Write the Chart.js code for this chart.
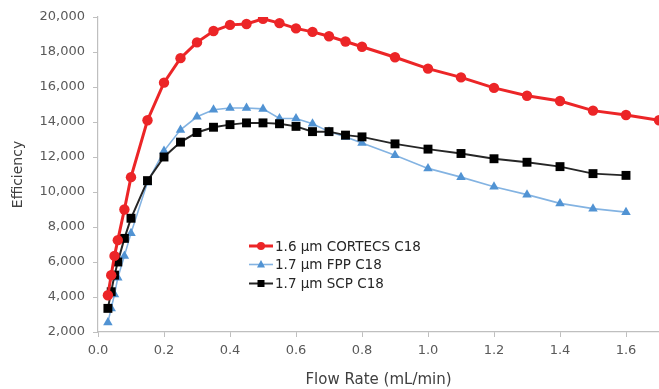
<!DOCTYPE html>
<html>
<head>
<meta charset="utf-8">
<script src="https://cdn.jsdelivr.net/npm/chart.js@4/dist/chart.umd.min.js"></script>
<style>
html, body { margin: 0; padding: 0; background: #fff; }
</style>
</head>
<body>
<canvas id="effChart" width="659" height="389"></canvas>
<script>
// flow rate (mL/min) and plate count
const flowCortecs = [0.03, 0.04, 0.05, 0.06, 0.08, 0.1, 0.15, 0.2, 0.25, 0.3, 0.35, 0.4, 0.45, 0.5, 0.55, 0.6, 0.65, 0.7, 0.75, 0.8, 0.9, 1.0, 1.1, 1.2, 1.3, 1.4, 1.5, 1.6, 1.7];
const effCortecs = [4100, 5250, 6350, 7250, 9000, 10850, 14100, 16250, 17650, 18550, 19200, 19550, 19600, 19900, 19650, 19350, 19150, 18900, 18600, 18300, 17700, 17050, 16550, 15950, 15500, 15200, 14650, 14400, 14100];

const flowOther = [0.03, 0.04, 0.05, 0.06, 0.08, 0.1, 0.15, 0.2, 0.25, 0.3, 0.35, 0.4, 0.45, 0.5, 0.55, 0.6, 0.65, 0.7, 0.75, 0.8, 0.9, 1.0, 1.1, 1.2, 1.3, 1.4, 1.5, 1.6];
const effFpp = [2550, 3350, 4150, 5100, 6350, 7650, 10550, 12350, 13550, 14300, 14700, 14800, 14800, 14750, 14200, 14200, 13900, 13450, 13150, 12800, 12100, 11350, 10850, 10300, 9850, 9350, 9050, 8850];
const effScp = [3350, 4300, 5250, 6000, 7350, 8500, 10650, 12000, 12850, 13400, 13700, 13850, 13950, 13950, 13900, 13750, 13450, 13450, 13250, 13150, 12750, 12450, 12200, 11900, 11700, 11450, 11050, 10950];

const seriesNames = ['1.6 µm CORTECS C18', '1.7 µm FPP C18', '1.7 µm SCP C18'];
const xTicks = [0, 0.2, 0.4, 0.6, 0.8, 1.0, 1.2, 1.4, 1.6];
const yTicks = [2000, 4000, 6000, 8000, 10000, 12000, 14000, 16000, 18000, 20000];

function toPoints(xs, ys) {
    return xs.map((x, i) => ({ x: x, y: ys[i] }));
}

const axisGray = '#bfbfbf';
const tickGray = '#595959';

// legend sits inside the plot, drawn by hand
const insideLegend = {
    id: 'insideLegend',
    afterDraw(chart) {
        const ctx = chart.ctx;
        const rows = [246, 264.5, 283.5];
        ctx.save();
        [0, 1, 2].forEach((di, r) => {
            const ds = chart.data.datasets[di];
            const y = rows[r];
            ctx.strokeStyle = ds.borderColor;
            ctx.lineWidth = ds.borderWidth;
            ctx.beginPath();
            ctx.moveTo(249, y);
            ctx.lineTo(273, y);
            ctx.stroke();
            ctx.fillStyle = ds.pointBackgroundColor;
            ctx.beginPath();
            if (ds.pointStyle === 'circle') {
                ctx.arc(261, y, 4, 0, Math.PI * 2);
            } else if (ds.pointStyle === 'triangle') {
                ctx.moveTo(261, y - 4.5);
                ctx.lineTo(265, y + 3);
                ctx.lineTo(257, y + 3);
                ctx.closePath();
            } else {
                ctx.rect(257.5, y - 3.5, 7, 7);
            }
            ctx.fill();
            ctx.fillStyle = '#262626';
            ctx.font = '13.5px "DejaVu Sans"';
            ctx.textBaseline = 'middle';
            ctx.fillText(ds.label, 275, y + 1);
        });
        ctx.restore();
    }
};

const ctx = document.getElementById('effChart');
const effChart = new Chart(ctx, {
    type: 'scatter',
    data: {
        datasets: [{
            label: seriesNames[0],
            data: toPoints(flowCortecs, effCortecs),
            showLine: true,
            borderColor: '#ec2527',
            backgroundColor: '#ec2527',
            pointBackgroundColor: '#ec2527',
            pointBorderWidth: 0,
            borderWidth: 3,
            pointStyle: 'circle',
            pointRadius: 5.2,
            order: 0
        }, {
            label: seriesNames[1],
            data: toPoints(flowOther, effFpp),
            showLine: true,
            borderColor: '#83b3e2',
            backgroundColor: '#5193d3',
            pointBackgroundColor: '#5193d3',
            pointBorderWidth: 0,
            borderWidth: 1.6,
            pointStyle: 'triangle',
            pointRadius: 5.5,
            order: 2
        }, {
            label: seriesNames[2],
            data: toPoints(flowOther, effScp),
            showLine: true,
            borderColor: '#262626',
            backgroundColor: '#000000',
            pointBackgroundColor: '#000000',
            pointBorderWidth: 0,
            borderWidth: 2,
            pointStyle: 'rect',
            pointRadius: 6.3,
            order: 1
        }]
    },
    options: {
        responsive: false,
        devicePixelRatio: 1,
        animation: false,
        layout: { autoPadding: false, padding: { top: 17, right: 0, bottom: 0, left: 0 } },
        plugins: {
            legend: { display: false },
            tooltip: { enabled: false }
        },
        scales: {
            x: {
                type: 'linear',
                min: 0,
                max: 1.7,
                afterBuildTicks: (scale) => { scale.ticks = xTicks.map(v => ({ value: v })); },
                afterFit: (scale) => { scale.height = 57; },
                ticks: {
                    color: tickGray,
                    font: { family: 'DejaVu Sans', size: 13 },
                    padding: 6,
                    maxRotation: 0,
                    callback: (v) => Number(v).toFixed(1)
                },
                grid: { drawOnChartArea: false, color: axisGray, tickLength: 5 },
                border: { color: axisGray, width: 1.2 },
                title: {
                    display: true,
                    text: 'Flow Rate (mL/min)',
                    color: '#404040',
                    font: { family: 'DejaVu Sans', size: 15 },
                    padding: { top: 0, bottom: 0 }
                }
            },
            y: {
                min: 2000,
                max: 20000,
                afterBuildTicks: (scale) => { scale.ticks = yTicks.map(v => ({ value: v })); },
                afterFit: (scale) => { scale.width = 98; },
                ticks: {
                    color: tickGray,
                    font: { family: 'DejaVu Sans', size: 13 },
                    padding: 8,
                    callback: (v) => Number(v).toLocaleString('en-US')
                },
                grid: { drawOnChartArea: false, color: axisGray, tickLength: 5 },
                border: { color: axisGray, width: 1.2 },
                title: {
                    display: true,
                    text: 'Efficiency',
                    color: '#404040',
                    font: { family: 'DejaVu Sans', size: 14 },
                    padding: { top: 10, bottom: 0 }
                }
            }
        }
    },
    plugins: [insideLegend]
});
</script>
</body>
</html>
